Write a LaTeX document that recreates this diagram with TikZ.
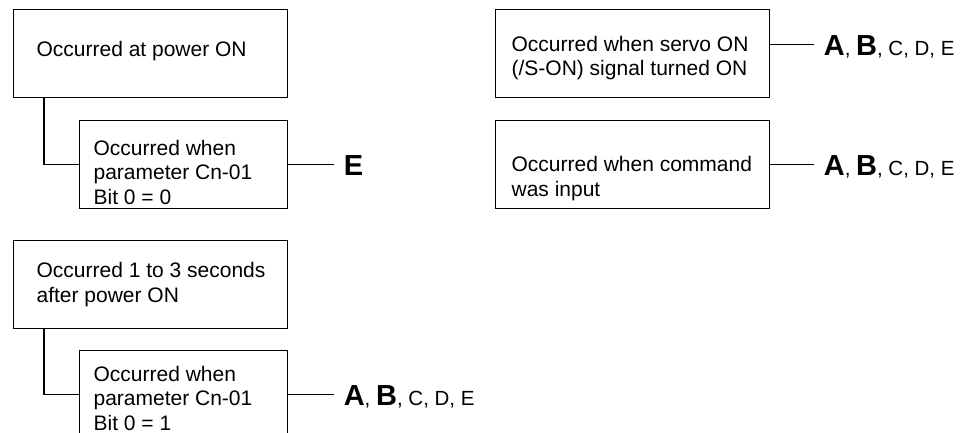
\documentclass[tikz,border=0pt]{standalone}
\usepackage{fontspec}
\setmainfont{Liberation Sans}
\usetikzlibrary{positioning}
\newcommand{\bigL}[1]{{\fontsize{29}{29}\selectfont\bfseries #1}}
\begin{document}
\begin{tikzpicture}[
        x=1pt, y=-1pt,
        line width=1.2pt,
        % riquadro di stato
        box/.style={
            draw,
            anchor=north west,
            inner sep=0pt,
            minimum width=#1,
            minimum height=88pt
        },
        box/.default=274pt,
        % testo dentro il riquadro (ancorato all'ultima riga)
        txt/.style={
            anchor=base west,
            inner sep=0pt,
            align=left,
            font=\fontsize{21}{24.5}\selectfont
        },
        % lettere del risultato
        res/.style={
            inner xsep=9pt,
            inner ysep=0pt,
            text height=21pt,
            text depth=0pt,
            font=\fontsize{20.5}{24.5}\selectfont
        }
    ]
    \useasboundingbox (0,0) rectangle (971,433);
    \clip (0,0) rectangle (971,433);

    % --- Colonna sinistra, in alto ---
    \node[box] (b1) at (13,9) {};
    \node[txt] (t1) at (36,57) {Occurred at power ON};
    \node[box=208pt] (b2) at (79,120) {};
    \node[txt] (t2) at (93,204) {Occurred when\\parameter Cn-01\\Bit 0 = 0};
    \draw ([xshift=31pt]b1.south west) |- (b2.west);
    \node[res, right=46pt of b2.east] (r2) {\bigL{E}};
    \draw (b2.east) -- (r2.west);

    % --- Colonna sinistra, in basso ---
    \node[box] (b3) at (13,240) {};
    \node[txt] (t3) at (36,302) {Occurred 1 to 3 seconds\\after power ON};
    \node[box=208pt] (b4) at (79,350) {};
    \node[txt] (t4) at (93,430) {Occurred when\\parameter Cn-01\\Bit 0 = 1};
    \draw ([xshift=31pt]b3.south west) |- (b4.west);
    \node[res, right=46pt of b4.east] (r4) {\bigL{A}, \bigL{B}, C, D, E};
    \draw (b4.east) -- (r4.west);

    % --- Colonna destra ---
    \node[box] (b5) at (495,9) {};
    \node[txt] (t5) at (511,76) {Occurred when servo ON\\(/S-ON) signal turned ON};
    \node[res, right=44pt of b5.east, yshift=9pt] (r5) {\bigL{A}, \bigL{B}, C, D, E};
    \draw (b5.east |- r5.west) -- (r5.west);

    \node[box] (b6) at (495,120) {};
    \node[txt] (t6) at (511,196) {Occurred when command\\was input};
    \node[res, right=44pt of b6.east] (r6) {\bigL{A}, \bigL{B}, C, D, E};
    \draw (b6.east) -- (r6.west);

\end{tikzpicture}
\end{document}
